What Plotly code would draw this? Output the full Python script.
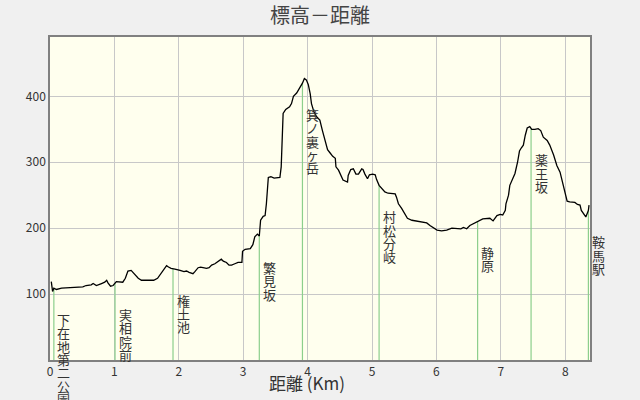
import numpy as np
import plotly.graph_objects as go

# Elevation profile (distance in km, elevation in m)
dist_km = [0.02, 0.04, 0.06, 0.10, 0.18, 0.33, 0.51, 0.56, 0.64, 0.67, 0.72, 0.80, 0.85, 0.88, 0.90,
           0.94, 0.98, 1.03, 1.08, 1.13, 1.17, 1.21, 1.26, 1.30, 1.37, 1.42, 1.52, 1.61, 1.67, 1.70,
           1.75, 1.81, 1.84, 1.88, 1.94, 1.99, 2.02, 2.08, 2.12, 2.16, 2.22, 2.25, 2.30, 2.34, 2.38,
           2.43, 2.47, 2.51, 2.56, 2.61, 2.66, 2.69, 2.74, 2.78, 2.82, 2.87, 2.92, 2.98, 2.99, 3.03,
           3.11, 3.15, 3.18, 3.22, 3.25, 3.27, 3.31, 3.34, 3.36, 3.39, 3.43, 3.48, 3.53, 3.57, 3.59,
           3.61, 3.62, 3.66, 3.72, 3.75, 3.78, 3.83, 3.88, 3.92, 3.95, 3.98, 4.01, 4.04, 4.06, 4.10,
           4.14, 4.19, 4.23, 4.27, 4.31, 4.35, 4.39, 4.43, 4.44, 4.48, 4.50, 4.55, 4.62, 4.63, 4.67,
           4.71, 4.75, 4.79, 4.84, 4.86, 4.89, 4.93, 4.96, 5.01, 5.05, 5.07, 5.11, 5.15, 5.20, 5.25,
           5.36, 5.38, 5.41, 5.46, 5.51, 5.55, 5.62, 5.69, 5.77, 5.85, 5.90, 5.95, 6.01, 6.08, 6.16,
           6.24, 6.32, 6.38, 6.42, 6.47, 6.52, 6.58, 6.62, 6.72, 6.83, 6.88, 6.94, 6.99, 7.03, 7.07,
           7.08, 7.12, 7.14, 7.18, 7.22, 7.26, 7.29, 7.32, 7.35, 7.38, 7.41, 7.45, 7.48, 7.53, 7.58,
           7.62, 7.66, 7.72, 7.76, 7.82, 7.87, 7.92, 7.96, 8.00, 8.03, 8.07, 8.15, 8.19, 8.23, 8.25,
           8.29, 8.32, 8.34, 8.36, 8.37]
elev_m = [119, 104, 109, 107, 109, 110, 111, 113, 114, 116, 113, 116, 118, 121, 117,
          112, 113, 119, 118, 118, 124, 135, 136, 131, 124, 121, 121, 121, 124, 128,
          134, 143, 141, 139, 138, 137, 136, 134, 135, 133, 131, 134, 140, 141, 140,
          139, 140, 144, 146, 149, 153, 150, 148, 144, 144, 146, 148, 148, 165, 168,
          169, 175, 187, 191, 188, 212, 218, 219, 237, 277, 278, 276, 277, 277, 293,
          348, 374, 380, 384, 389, 400, 405, 413, 420, 427, 425, 418, 404, 389, 376,
          369, 364, 348, 333, 319, 314, 309, 306, 293, 288, 283, 273, 270, 280, 289,
          290, 282, 282, 290, 289, 282, 275, 281, 282, 281, 274, 265, 260, 255, 253,
          252, 247, 237, 230, 222, 215, 212, 211, 210, 208, 204, 201, 197, 196, 197,
          200, 200, 199, 201, 199, 204, 207, 210, 214, 215, 211, 219, 221, 220, 227,
          237, 250, 265, 273, 283, 300, 317, 322, 326, 341, 352, 354, 350, 350, 351,
          348, 338, 333, 326, 311, 295, 285, 270, 255, 241, 240, 239, 236, 235, 227,
          220, 217, 222, 227, 235]

# Stations (waypoints)
station_names = ["下在地第二公園", "実相院前", "権土池", "繁見坂", "箕ノ裏ヶ岳",
                 "村松分岐", "静原", "薬王坂", "鞍馬駅"]
station_km = [0.06, 1.01, 1.91, 3.25, 3.92, 5.11, 6.64, 7.47, 8.36]

x_ticks = [0, 1, 2, 3, 4, 5, 6, 7, 8]
y_ticks = [100, 200, 300, 400]

title_text = "標高－距離"
x_title = "距離 (Km)"

FONT = "Noto Sans CJK JP, Noto Sans, sans-serif"

fig = go.Figure()

# Station vertical lines from ground up to the profile
station_elev = np.interp(station_km, dist_km, elev_m)
for km, el in zip(station_km, station_elev):
    fig.add_trace(go.Scatter(x=[km, km], y=[0, el], mode="lines",
                             line=dict(color="#8ccf8c", width=1.2),
                             hoverinfo="skip", showlegend=False))

fig.add_trace(go.Scatter(x=dist_km, y=elev_m, mode="lines",
                         line=dict(color="#000000", width=1.3),
                         showlegend=False))

# Vertical labels, one character per annotation
for name, km, el in zip(station_names, station_km, station_elev):
    for i, ch in enumerate(name):
        fig.add_annotation(x=km, y=el, xref="x", yref="y", text=ch, showarrow=False,
                           xanchor="center", yanchor="top",
                           xshift=10, yshift=-(20 + i * 13.3),
                           font=dict(family=FONT, size=13, color="#333333"))

fig.add_annotation(x=0.476, y=-0.071, xref="paper", yref="paper", text=x_title,
                   showarrow=False, xanchor="center", yanchor="middle",
                   font=dict(family=FONT, size=17, color="#333333"))

fig.update_layout(
    width=640, height=400,
    margin=dict(l=50, r=50, t=37, b=40),
    paper_bgcolor="#f0f0f0",
    plot_bgcolor="#ffffee",
    title=dict(text=title_text, x=0.5, xanchor="center", y=0.96, yanchor="middle",
               font=dict(family=FONT, size=20, color="#444444")),
    xaxis=dict(range=[0, 8.385], tickvals=x_ticks, ticktext=[str(v) for v in x_ticks],
               showgrid=True, gridcolor="#c8c8c8", gridwidth=1, zeroline=False,
               showline=True, linecolor="#808080", linewidth=1.5, mirror=True,
               ticks="", tickfont=dict(family=FONT, size=12, color="#333333")),
    yaxis=dict(range=[0, 490], tickvals=y_ticks, ticktext=[str(v) for v in y_ticks],
               showgrid=True, gridcolor="#c8c8c8", gridwidth=1, zeroline=False,
               showline=True, linecolor="#808080", linewidth=1.5, mirror=True,
               ticks="", tickfont=dict(family=FONT, size=12, color="#333333")),
)

fig.write_html("out.html", config={"displayModeBar": False},
               post_script="document.body.style.margin='0';document.body.style.background='#f0f0f0';")
